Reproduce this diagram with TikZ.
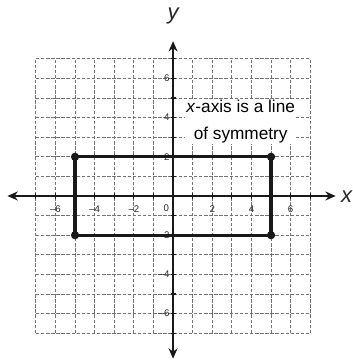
\documentclass[tikz,border=0pt]{standalone}
\usepackage{fontspec}
\setmainfont{Liberation Sans}
\usetikzlibrary{arrows.meta}
\begin{document}
\begin{tikzpicture}[x=0.5cm,y=0.5cm,
  gridline/.style={black!55,line width=0.55pt,dash pattern=on 2.5pt off 1.2pt},
  axisline/.style={black!90,line width=1.7pt,-{Stealth[length=7.5pt,width=6.5pt]}},
  rectline/.style={black!90,line width=2.3pt},
  cornerdot/.style={circle,fill=black!90,inner sep=0pt,minimum size=6pt},
  ticklab/.style={font=\fontsize{7}{7}\selectfont,text=black!85,inner sep=1pt},
  axislab/.style={font=\fontsize{16}{16}\selectfont\itshape,text=black!85},
  note/.style={font=\fontsize{12.5}{19}\selectfont,text=black,fill=white,align=center,inner sep=1pt}]
\useasboundingbox (-8.83,-8.47) rectangle (9.13,10.0);
% grid
\foreach \i in {-7,...,7} {
  \draw[gridline] (\i,-7) -- (\i,7);
  \draw[gridline] (-7,\i) -- (7,\i);
}
% note
\node[note] (txt) at (3.45,3.8) {\textit{x}-axis is a line\\of symmetry};
% axes
\coordinate (xl) at (-8.45,0);
\coordinate (xr) at (8.3,0);
\coordinate (yb) at (0,-8.3);
\coordinate (yt) at (0,7.9);
\draw[axisline] (0,0) -- (xr);
\draw[axisline] (0,0) -- (xl);
\draw[axisline] (0,0) -- (yt);
\draw[axisline] (0,0) -- (yb);
\foreach \i in {-7,...,7} {
  \draw[black!90,line width=0.9pt] (\i,-0.13) -- (\i,0.13);
  \draw[black!90,line width=0.9pt] (-0.13,\i) -- (0.13,\i);
}
\node[axislab] (xlab) at (8.85,-0.05) {x};
\node[axislab] (ylab) at (0,9.2) {y};
% tick labels
\foreach \v/\t in {-6/{–6},-4/{–4},-2/{–2},2/2,4/4,6/6} {
  \node[ticklab] at (\v,-0.65) {\t};
}
\node[ticklab] (o) at (-0.35,-0.6) {0};
\foreach \v/\t in {6/6,4/4,2/2,-2/{–2},-4/{–4},-6/{–6}} {
  \node[ticklab,anchor=east] at (-0.1,\v) {\t};
}
% rectangle
\node[cornerdot] (A) at (-5,2) {};
\node[cornerdot] (B) at (5,2) {};
\node[cornerdot] (C) at (5,-2) {};
\node[cornerdot] (D) at (-5,-2) {};
\draw[rectline] (A.center) -- (B.center) -- (C.center) -- (D.center) -- cycle;
\end{tikzpicture}
\end{document}
